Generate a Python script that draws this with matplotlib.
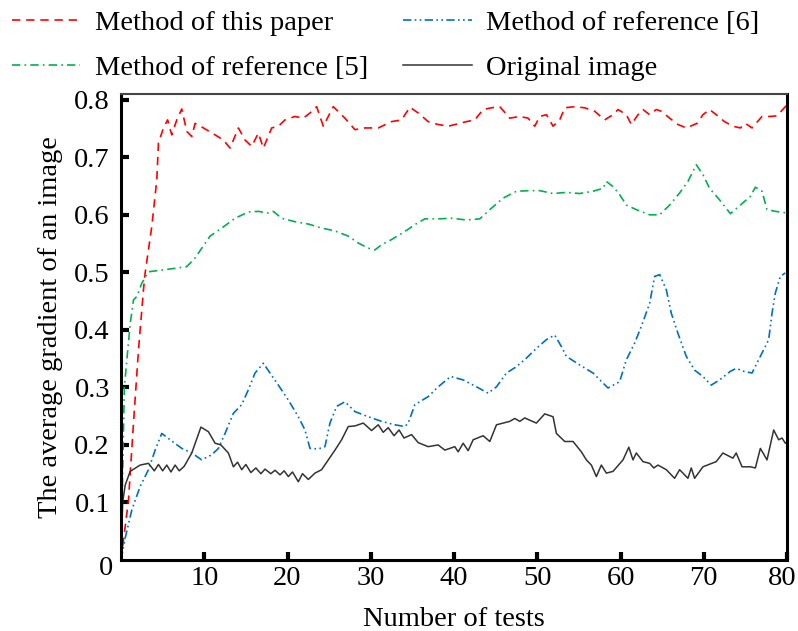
import matplotlib
matplotlib.use("Agg")
import matplotlib.pyplot as plt
import matplotlib.transforms as mtransforms

# ── data ─────────────────────────────────────────────────────────────────────
paper_x = [0, 0.9, 1.5, 2.1, 2.7, 2.9, 3.7, 4.3, 4.5, 5.1, 5.6, 6.1, 6.7, 7.3, 7.9,
           8.5, 8.9, 9.9, 11.3, 12.3, 13.1, 14.1, 14.9, 15.7, 16.5, 17.1, 18.1, 18.9,
           19.7, 20.9, 21.9, 22.7, 23.5, 24.3, 25.5, 26.9, 28.1, 29.3, 30.9, 32.5,
           33.7, 34.7, 35.7, 36.9, 38.1, 39.3, 40.7, 41.5, 42.5, 43.5, 44.5, 45.5,
           46.7, 47.9, 48.9, 49.7, 50.3, 51.1, 51.9, 52.7, 53.3, 54.5, 55.7, 56.9,
           58.1, 59.1, 59.7, 60.7, 61.3, 62.1, 62.7, 63.5, 64.3, 64.9, 65.9, 66.9,
           67.9, 69.2, 69.9, 70.7, 71.5, 72.5, 73.5, 74.4, 75.0, 75.8, 77.0, 78.0,
           78.8, 79.8, 80]
paper_y = [0, 0.104, 0.238, 0.365, 0.47, 0.499, 0.58, 0.661, 0.725, 0.751, 0.765,
           0.739, 0.765, 0.784, 0.745, 0.736, 0.759, 0.751, 0.739, 0.73, 0.716, 0.751,
           0.73, 0.719, 0.742, 0.716, 0.751, 0.754, 0.765, 0.771, 0.768, 0.777, 0.788,
           0.754, 0.788, 0.768, 0.748, 0.751, 0.751, 0.762, 0.765, 0.787, 0.777, 0.762,
           0.757, 0.754, 0.759, 0.762, 0.765, 0.783, 0.786, 0.788, 0.768, 0.771, 0.768,
           0.754, 0.771, 0.774, 0.754, 0.765, 0.786, 0.788, 0.786, 0.78, 0.765, 0.774,
           0.783, 0.774, 0.757, 0.774, 0.783, 0.774, 0.783, 0.78, 0.768, 0.757, 0.751,
           0.759, 0.774, 0.783, 0.774, 0.762, 0.754, 0.751, 0.759, 0.751, 0.771, 0.771,
           0.772, 0.788, 0.79]

ref5_x = [0, 0.4, 1.1, 1.5, 1.9, 2.5, 3.3, 4.9, 6.5, 7.9, 8.9, 9.7, 10.7, 12.1, 13.7,
          15.3, 16.5, 17.7, 18.3, 19.3, 20.9, 22.5, 24.1, 25.7, 27.3, 28.5, 29.7, 30.5,
          31.3, 32.5, 34.1, 35.3, 36.5, 38.1, 39.8, 41.5, 43.1, 44.3, 45.9, 47.5, 49.1,
          50.3, 51.9, 53.5, 55.1, 56.7, 57.9, 58.3, 59.1, 59.9, 60.7, 61.9, 63.5, 64.7,
          65.9, 67.1, 68.1, 69.1, 69.9, 70.7, 71.9, 73.2, 74.4, 75.6, 76.2, 77.0, 77.6,
          78.6, 79.6, 80]
ref5_y = [0, 0.30, 0.41, 0.452, 0.458, 0.481, 0.501, 0.504, 0.507, 0.51, 0.525, 0.542,
          0.563, 0.577, 0.594, 0.605, 0.606, 0.603, 0.606, 0.594, 0.588, 0.584, 0.577,
          0.572, 0.563, 0.551, 0.542, 0.539, 0.548, 0.557, 0.571, 0.583, 0.593, 0.593,
          0.594, 0.591, 0.593, 0.609, 0.629, 0.641, 0.642, 0.642, 0.637, 0.639, 0.637,
          0.641, 0.646, 0.658, 0.649, 0.635, 0.617, 0.609, 0.6, 0.6, 0.617, 0.638, 0.658,
          0.687, 0.67, 0.646, 0.626, 0.602, 0.617, 0.632, 0.648, 0.641, 0.609, 0.606,
          0.604, 0.603]

ref6_x = [0, 0.5, 1.3, 2.3, 3.3, 4.1, 4.9, 5.9, 7.3, 8.5, 9.7, 10.9, 11.7, 12.5, 13.5,
          14.5, 15.3, 16.1, 17.1, 17.9, 18.9, 20.1, 21.3, 22.1, 22.7, 23.7, 24.5, 25.1,
          25.9, 26.9, 28.1, 29.7, 31.3, 32.9, 34.1, 34.5, 35.3, 36.9, 38.1, 39.6, 41.1,
          42.7, 44.1, 45.1, 46.3, 47.5, 48.7, 49.9, 51.1, 52.1, 52.9, 53.5, 55.1, 56.7,
          58.5, 59.9, 60.7, 61.7, 62.5, 63.5, 64.1, 64.7, 65.5, 66.1, 66.9, 67.9, 68.9,
          69.9, 70.9, 71.9, 73.2, 73.9, 74.8, 75.8, 76.8, 77.8, 78.2, 78.6, 79.2, 79.8]
ref6_y = [0, 0.038, 0.087, 0.128, 0.157, 0.191, 0.22, 0.209, 0.194, 0.186, 0.174, 0.183,
          0.194, 0.22, 0.255, 0.27, 0.296, 0.325, 0.342, 0.325, 0.304, 0.278, 0.249,
          0.226, 0.194, 0.193, 0.197, 0.238, 0.267, 0.275, 0.258, 0.249, 0.241, 0.235,
          0.232, 0.238, 0.27, 0.284, 0.301, 0.319, 0.313, 0.301, 0.29, 0.301, 0.325,
          0.336, 0.351, 0.368, 0.383, 0.391, 0.371, 0.354, 0.339, 0.325, 0.299, 0.31,
          0.348, 0.377, 0.406, 0.446, 0.493, 0.496, 0.47, 0.429, 0.394, 0.354, 0.33,
          0.319, 0.304, 0.313, 0.328, 0.333, 0.328, 0.325, 0.354, 0.383, 0.429, 0.464,
          0.493, 0.499]

orig_x = [0, 0.2, 0.5, 1.1, 2.3, 3.3, 4.0, 4.5, 5.0, 5.5, 6.0, 6.5, 7.0, 7.6, 8.5, 9.6,
          10.5, 11.3, 12.0, 12.9, 13.5, 14.0, 14.5, 15.0, 15.6, 16.2, 16.8, 17.3, 18.0,
          18.5, 19.1, 19.6, 20.1, 20.6, 21.3, 21.8, 22.5, 23.3, 24.1, 24.9, 25.7, 26.5,
          27.3, 28.1, 29.1, 30.1, 30.9, 31.5, 32.1, 32.8, 33.4, 34.0, 34.9, 35.7, 36.9,
          38.1, 38.9, 40.1, 40.5, 41.1, 41.7, 42.3, 43.5, 44.3, 45.1, 46.7, 47.3, 47.9,
          48.5, 49.1, 49.9, 50.9, 51.9, 52.3, 53.3, 54.3, 55.3, 55.9, 56.5, 57.1, 57.7,
          58.3, 59.1, 60.3, 61.0, 61.5, 61.9, 62.7, 63.5, 64.0, 64.5, 65.5, 66.5, 67.1,
          68.1, 68.5, 68.9, 69.9, 71.5, 72.3, 73.5, 73.9, 74.6, 75.6, 76.2, 76.8, 77.6,
          78.4, 79.0, 79.4, 79.8, 80]
orig_y = [0, 0.1, 0.13, 0.154, 0.165, 0.168, 0.155, 0.166, 0.155, 0.165, 0.153, 0.165,
          0.155, 0.163, 0.186, 0.231, 0.223, 0.203, 0.2, 0.186, 0.162, 0.17, 0.157, 0.166,
          0.152, 0.16, 0.15, 0.158, 0.15, 0.156, 0.148, 0.155, 0.145, 0.153, 0.136, 0.15,
          0.14, 0.151, 0.157, 0.174, 0.191, 0.209, 0.232, 0.233, 0.238, 0.225, 0.235,
          0.222, 0.23, 0.216, 0.226, 0.212, 0.218, 0.204, 0.197, 0.2, 0.191, 0.197, 0.188,
          0.203, 0.19, 0.209, 0.216, 0.206, 0.235, 0.241, 0.246, 0.241, 0.247, 0.243,
          0.238, 0.254, 0.249, 0.22, 0.206, 0.206, 0.188, 0.174, 0.165, 0.145, 0.165,
          0.151, 0.154, 0.174, 0.196, 0.174, 0.186, 0.171, 0.168, 0.16, 0.165, 0.157,
          0.142, 0.157, 0.142, 0.16, 0.142, 0.162, 0.171, 0.186, 0.177, 0.186, 0.162,
          0.162, 0.16, 0.194, 0.174, 0.226, 0.209, 0.212, 0.203, 0.205]

x_ticks = [10, 20, 30, 40, 50, 60, 70, 80]
y_ticks = [0.1, 0.2, 0.3, 0.4, 0.5, 0.6, 0.7, 0.8]

# ── style ────────────────────────────────────────────────────────────────────
plt.rcParams.update({
    "font.family": "serif",
    "font.serif": ["Liberation Serif", "DejaVu Serif"],
    "font.size": 20.5,
    "xtick.direction": "in",
    "ytick.direction": "in",
})

fig = plt.figure(figsize=(7.98, 6.31), dpi=100)
ax = fig.add_axes([121 / 798, 1 - 560 / 631, (787 - 121) / 798, (560 - 94) / 631])

ax.plot(paper_x, paper_y, color="#FF0000", lw=1.2, ls=(0, (5, 3.5)),
        label="Method of this paper")
ax.plot(ref5_x, ref5_y, color="#00B050", lw=1.2, ls=(0, (5, 2.5, 1, 2.5)),
        label="Method of reference [5]")
ax.plot(ref6_x, ref6_y, color="#0070C0", lw=1.2, ls=(0, (5, 2, 1, 2, 1, 2)),
        label="Method of reference [6]")
ax.plot(orig_x, orig_y, color="#333333", lw=1.1, ls="-",
        label="Original image")

ax.set_xlim(0, 80)
ax.set_ylim(0, 0.81)
ax.set_xticks(x_ticks)
ax.set_yticks(y_ticks)
ax.set_yticklabels([f"{v:.1f}" for v in y_ticks])
ax.tick_params(which="major", length=6, width=3, color="black")
ax.tick_params(axis="y", pad=8)
ax.tick_params(axis="x", pad=4)
for side in ["left", "bottom", "right"]:
    ax.spines[side].set_linewidth(2.2)
ax.spines["top"].set_linewidth(1.5)
ax.spines["top"].set_color("#444444")

# keep the last x label inside the canvas
last = ax.get_xticklabels()[-1]
last.set_transform(last.get_transform() +
                   mtransforms.ScaledTranslation(-5 / 100, 0, fig.dpi_scale_trans))

ax.annotate("0", xy=(0, 0), xycoords="data", xytext=(-6, -6),
            textcoords="offset points", ha="right", va="center")

ax.set_xlabel("Number of tests", labelpad=12)
ax.set_ylabel("The average gradient of an image", labelpad=8)

fig.legend(loc="upper left", bbox_to_anchor=(12 / 798, 1 - 10 / 631), ncol=2,
           frameon=False, borderpad=0, borderaxespad=0, handlelength=2.4,
           handletextpad=0.5, columnspacing=1.25, labelspacing=0.68, fontsize=20.5)

fig.savefig("out.png", dpi=100)
